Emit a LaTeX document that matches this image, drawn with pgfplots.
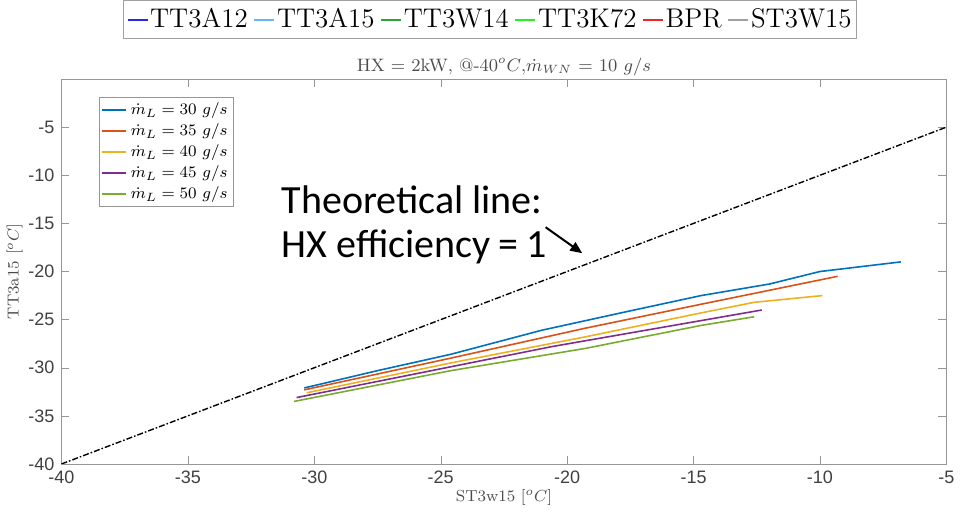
\documentclass[border=0pt]{standalone}
\usepackage{pgfplots}
\pgfplotsset{compat=1.18}
\usepackage{fontspec}
\newfontfamily\arialfont{Liberation Sans}
\newfontfamily\calibrifont{Carlito}
\usetikzlibrary{arrows.meta}

\definecolor{mblue}{rgb}{0,0.447,0.741}
\definecolor{morange}{rgb}{0.85,0.325,0.098}
\definecolor{myellow}{rgb}{0.929,0.694,0.125}
\definecolor{mpurple}{rgb}{0.494,0.184,0.556}
\definecolor{mgreen}{rgb}{0.466,0.674,0.188}
\definecolor{axgray}{RGB}{150,150,150}
\definecolor{lgblue}{RGB}{40,40,235}
\definecolor{lglight}{RGB}{100,180,250}
\definecolor{lggreen}{RGB}{40,165,50}
\definecolor{lglime}{RGB}{40,240,40}
\definecolor{lgred}{RGB}{235,40,40}
\definecolor{lggray}{RGB}{160,160,160}

\begin{document}
\begin{tikzpicture}
% top legend (separate, as in the figure)
\begin{axis}[
  width=442.5pt, height=192.5pt, scale only axis,
  hide axis, xmin=0, xmax=1, ymin=0, ymax=1,
  legend columns=6,
  legend style={at={(0.5,1)}, anchor=south, yshift=20pt, xshift=-7pt,
    draw=lggray, font=\fontsize{13.5}{16}\selectfont,
    inner sep=1.5pt, nodes={inner xsep=0.8pt, inner ysep=2.5pt},
    /tikz/every even column/.append style={column sep=2pt}},
  legend image code/.code={\draw[#1, line width=1pt] (0pt,0pt) -- (10pt,0pt);},
]
\addlegendimage{lgblue}\addlegendentry{TT3A12}
\addlegendimage{lglight}\addlegendentry{TT3A15}
\addlegendimage{lggreen}\addlegendentry{TT3W14}
\addlegendimage{lglime}\addlegendentry{TT3K72}
\addlegendimage{lgred}\addlegendentry{BPR}
\addlegendimage{lggray}\addlegendentry{ST3W15}
\end{axis}

\begin{axis}[
  width=442.5pt, height=192.5pt, scale only axis,
  xmin=-40, xmax=-5, ymin=-40, ymax=0,
  xtick={-40,-35,...,-5}, ytick={-40,-35,...,-5},
  tick pos=both, tick align=inside,
  major tick length=4pt,
  axis line style={axgray}, tick style={axgray},
  /pgf/number format/assume math mode=true,
  tick label style={font=\arialfont\fontsize{9}{10}\selectfont, text=black!75},
  xlabel={ST3w15 [$^oC$]}, ylabel={TT3a15 [$^oC$]},
  label style={font=\fontsize{8}{9}\selectfont, text=black!70},
  xlabel style={yshift=4pt}, ylabel style={yshift=-4pt},
  title={$\mathrm{HX}$ = 2kW, @-40$^oC$,$\dot{m}_{WN}$ = 10 $g/s$},
  title style={font=\fontsize{9}{10}\selectfont, text=black!70, yshift=-8pt},
  legend cell align=left,
  legend style={at={(0.042,0.953)}, anchor=north west, draw=axgray,
    font=\fontsize{8}{9}\selectfont, inner sep=1pt,
    nodes={inner ysep=1.5pt}},
  legend image code/.code={\draw[#1, line width=0.9pt] (0pt,0pt) -- (12pt,0pt);},
  every axis plot/.append style={line width=0.8pt},
]
\addplot[color=mblue] coordinates {
  (-30.4,-32.1) (-27.5,-30.3) (-24.6,-28.6) (-21.0,-26.1) (-17.7,-24.2)
  (-14.7,-22.5) (-12.0,-21.3) (-10.0,-20.0) (-6.8,-19.0)
};
\addlegendentry{$\dot{m}_L = 30\ g/s$}
\addplot[color=morange] coordinates {
  (-30.4,-32.3) (-24.6,-29.0) (-19.3,-25.9) (-14.7,-23.4) (-9.3,-20.5)
};
\addlegendentry{$\dot{m}_L = 35\ g/s$}
\addplot[color=myellow] coordinates {
  (-30.3,-32.6) (-24.6,-29.5) (-19.3,-26.8) (-14.7,-24.3) (-12.6,-23.2) (-9.9,-22.5)
};
\addlegendentry{$\dot{m}_L = 40\ g/s$}
\addplot[color=mpurple] coordinates {
  (-30.7,-33.1) (-24.6,-29.9) (-20.6,-27.8) (-14.7,-25.1) (-12.3,-24.0)
};
\addlegendentry{$\dot{m}_L = 45\ g/s$}
\addplot[color=mgreen] coordinates {
  (-30.8,-33.5) (-24.6,-30.3) (-19.3,-28.0) (-14.7,-25.6) (-12.6,-24.7)
};
\addlegendentry{$\dot{m}_L = 50\ g/s$}
\addplot[black, densely dashdotted, line width=0.7pt, forget plot] coordinates {
  (-40,-40) (-5,-5)
};
\node[anchor=base west, font=\calibrifont\fontsize{20}{22}\selectfont, inner sep=0pt]
  at (axis cs:-31.3,-13.94) {Theoretical line:};
\node[anchor=base west, font=\calibrifont\fontsize{20}{22}\selectfont, inner sep=0pt]
  at (axis cs:-31.3,-18.58) {HX efficiency\hspace{0.2em}=\hspace{0.2em}1};
\draw[-{Triangle[length=6pt,width=5pt]}, line width=1pt]
  (axis cs:-20.85,-15.4) -- (axis cs:-19.4,-18.1);
\end{axis}
\end{tikzpicture}
\end{document}
